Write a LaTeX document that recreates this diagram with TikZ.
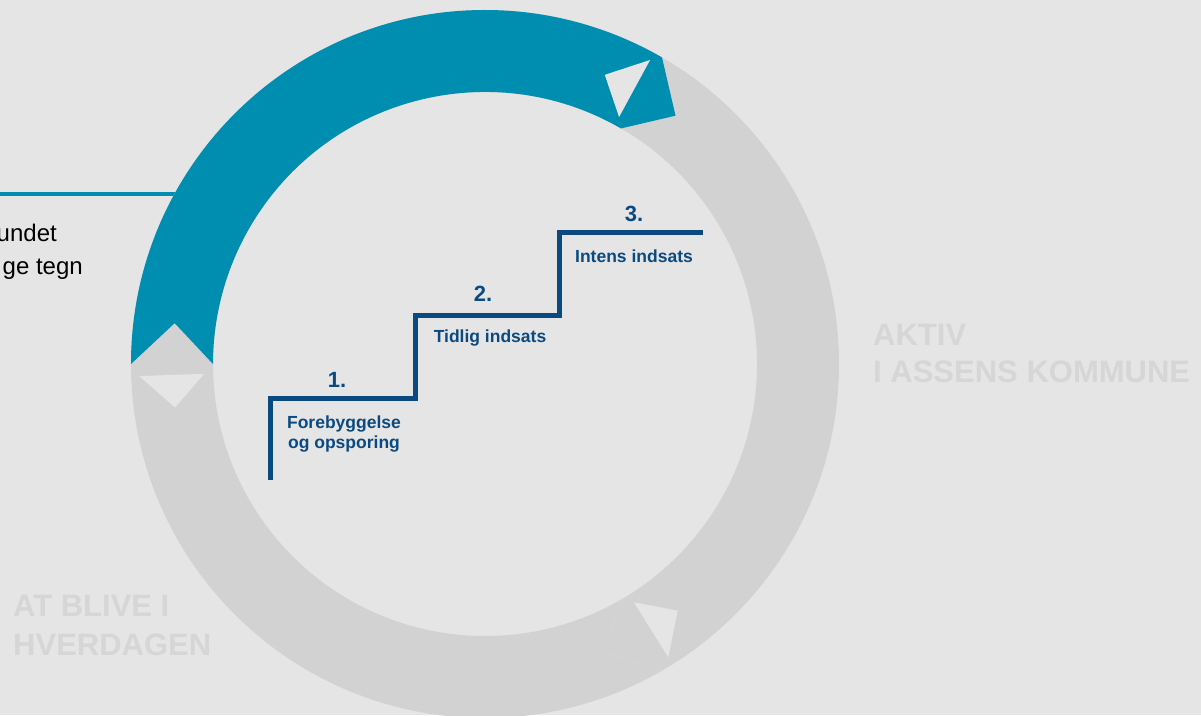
\documentclass[tikz,border=0pt]{standalone}
\usepackage{fontspec}
\setmainfont{Liberation Sans}
\usetikzlibrary{positioning}
\definecolor{bgGray}{HTML}{E5E5E5}
\definecolor{ringGray}{HTML}{D2D2D2}
\definecolor{phaseGray}{HTML}{D6D6D6}
\definecolor{cycleBlue}{HTML}{008EB0}
\definecolor{stairBlue}{HTML}{0A4A80}

\begin{document}
\begin{tikzpicture}[x=1pt,y=1pt]
  \tikzstyle{num}=[text=stairBlue,font=\bfseries\fontsize{22}{26}\selectfont,inner sep=0pt,anchor=base]
  \tikzstyle{steptxt}=[text=stairBlue,font=\bfseries\fontsize{17.5}{20}\selectfont,inner sep=0pt,anchor=base]
  \tikzstyle{phase}=[text=phaseGray,font=\bfseries\fontsize{31}{37}\selectfont,inner sep=0pt,anchor=base west]
  \tikzstyle{note}=[font=\fontsize{24}{32}\selectfont,inner sep=0pt,anchor=base east]
  \tikzstyle{tri}=[fill=bgGray]
  % background
  \fill[bgGray] (-485,-351) rectangle (716,364);
  \useasboundingbox (-485,-351) rectangle (716,364);
  % line from the left
  \coordinate (lineL) at (-485,170);
  \coordinate (lineR) at (-309,170);
  \draw[cycleBlue,line width=4pt] (lineL) -- (lineR);
  % gray ring
  \fill[ringGray,even odd rule] (0,0) circle (354) (0,0) circle (272);
  \draw[ringGray!88!white,line width=0.5pt] (-60:273) -- (-67.5:313) -- (-60:353);
  % blue arrow
  \fill[cycleBlue] (180:354) arc[start angle=180,end angle=60,radius=354]
    -- (52.5:313) -- (60:272) arc[start angle=60,end angle=180,radius=272]
    -- (172.5:313) -- cycle;
  \foreach \a in {61.5,182,-58}
    \fill[tri] (\a:281) -- (\a:346) -- ({\a+6}:313) -- cycle;
  % stairs
  \coordinate (st0) at (-214,-116);
  \coordinate (st1) at (-214,-34);
  \coordinate (st2) at (-70,-34);
  \coordinate (st3) at (-70,49);
  \coordinate (st4) at (74,49);
  \coordinate (st5) at (74,131);
  \coordinate (st6) at (218,131);
  \draw[stairBlue,line width=5pt,line join=miter] (st0) -- (st1) -- (st2) -- (st3) -- (st4) -- (st5) -- (st6);
  \node[num] (n1) at (-148,-23) {1.};
  \node[num] (n2) at (-2,63) {2.};
  \node[num] (n3) at (149,142) {3.};
  \node[steptxt] (forebyg) at (-141,-64) {Forebyggelse};
  \node[steptxt] (opspor) at ([yshift=-20pt]forebyg.base) {og opsporing};
  \node[steptxt] (tidlig) at (5,22) {Tidlig indsats};
  \node[steptxt] (intens) at (149,102) {Intens indsats};
  % phase labels
  \node[phase] (aktiv) at (388,19) {AKTIV};
  \node[phase] (assens) at ([yshift=-37pt]aktiv.base west) {I ASSENS KOMMUNE};
  \node[phase] (blive) at (-472,-252) {AT BLIVE I};
  \node[phase] (hverdag) at ([yshift=-39pt]blive.base west) {HVERDAGEN};
  % cut-off note
  \node[note] (undet) at (-428,122) {undet};
  \node[note] (tegn) at (-402,90) {ge tegn};
\end{tikzpicture}
\end{document}
